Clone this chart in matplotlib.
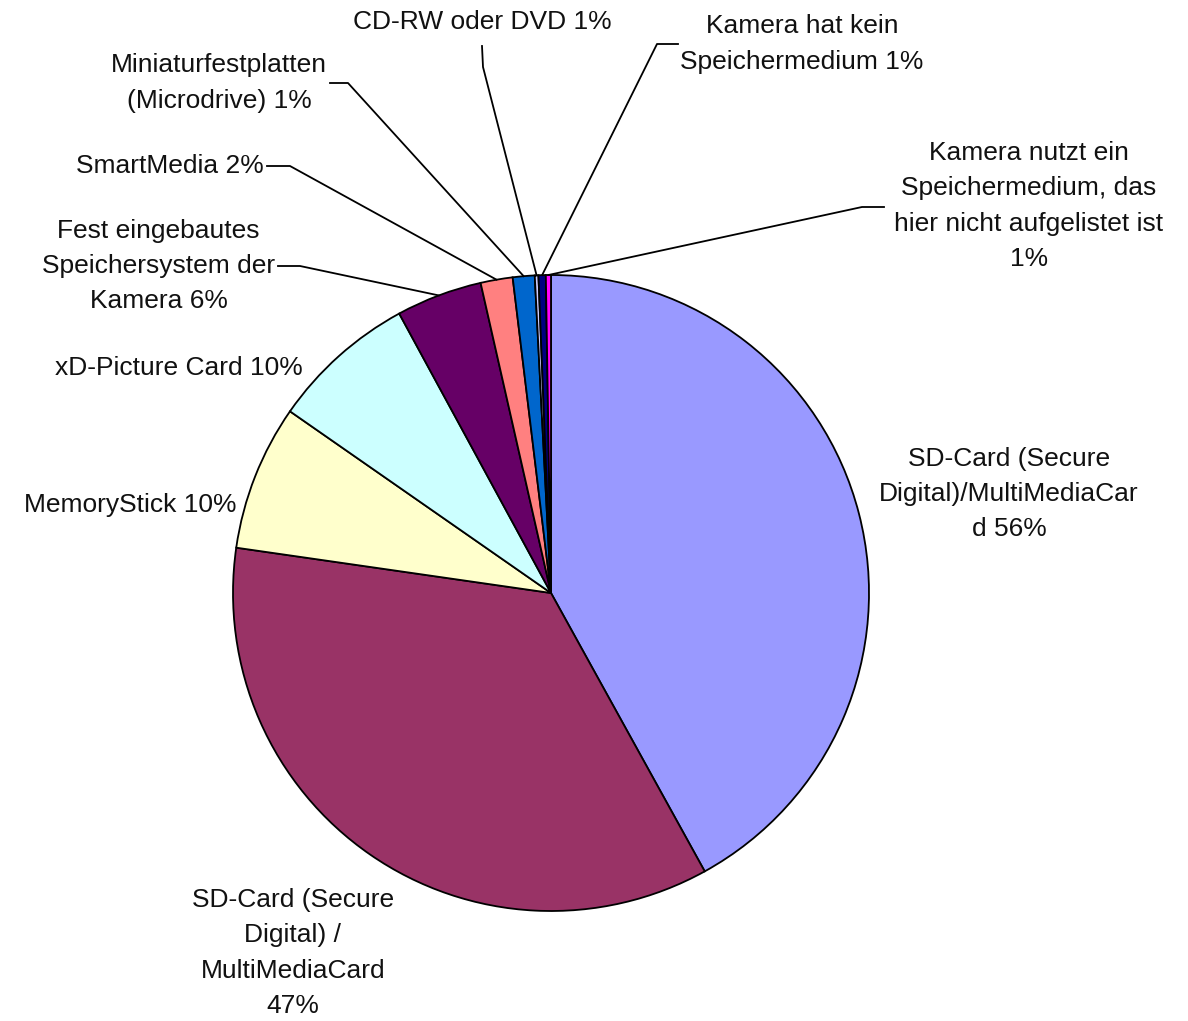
import numpy as np
from matplotlib import pyplot as plt

# Anteile, aus den Winkeln (Beschriftung zeigt die Prozentwerte)
kategorien = ["SD-Card 56", "SD-Card 47", "MemoryStick", "xD-Picture Card",
              "Fest eingebaut", "SmartMedia", "Microdrive", "CD-RW/DVD",
              "kein Speichermedium", "anderes Speichermedium"]
anteile = [56.7, 47.7, 10.0, 10.0, 5.9, 2.2, 1.5, 0.25, 0.5, 0.35]
beschriftungen = [
    "SD-Card (Secure\nDigital)/MultiMediaCar\nd 56%",
    "SD-Card (Secure\nDigital) /\nMultiMediaCard\n47%",
    "MemoryStick 10%",
    "xD-Picture Card 10%",
    "Fest eingebautes\nSpeichersystem der\nKamera 6%",
    "SmartMedia 2%",
    "Miniaturfestplatten\n(Microdrive) 1%",
    "CD-RW oder DVD 1%",
    "Kamera hat kein\nSpeichermedium 1%",
    "Kamera nutzt ein\nSpeichermedium, das\nhier nicht aufgelistet ist\n1%",
]
farben = ["#9999FF", "#993366", "#FFFFCC", "#CCFFFF", "#660066",
          "#FF8080", "#0066CC", "#CCCCFF", "#000080", "#FF00FF"]

# Layout in Bildpixeln (y nach unten)
label_pos = [(1009, 494, "center"), (293, 953, "center"), (237, 505, "right"),
             (303, 368, "right"), (275, 266, "right"), (264, 166, "right"),
             (327, 83, "right"), (482, 22, "center"), (802, 44, "center"),
             (1029, 206, "center")]
# Anfang und Knick der Fuehrungslinien
leader = [None, None, None, None,
          ((278, 266), (300, 266)), ((267, 166), (290, 166)),
          ((330, 83), (348, 83)), ((482, 46), (483, 67)),
          ((678, 44), (657, 44)), ((884, 207), (862, 207))]

W, H = 1188, 1021
fig = plt.figure(figsize=(W / 100, H / 100), dpi=100)
ax = fig.add_axes([0, 0, 1, 1])

# y-Achse ist invertiert -> counterclock=True und Start bei 270 ergibt im Uhrzeigersinn ab 12 Uhr
wedges, _ = ax.pie(anteile, colors=farben, startangle=270, counterclock=True,
                   center=(551, 593), radius=318,
                   wedgeprops=dict(edgecolor="black", linewidth=1.3))
ax.set_xlim(0, W)
ax.set_ylim(H, 0)
ax.set_aspect("equal")
ax.axis("off")

for w, txt, (x, y, ha), ld in zip(wedges, beschriftungen, label_pos, leader):
    ax.text(x, y, txt, ha=ha, va="center", multialignment="center",
            fontsize=19, family=["Liberation Sans", "DejaVu Sans"],
            linespacing=1.6, color="#111111")
    if ld is None:
        continue
    mitte = np.deg2rad((w.theta1 + w.theta2) / 2)
    ende = (w.center[0] + w.r * np.cos(mitte), w.center[1] + w.r * np.sin(mitte))
    xs = [ld[0][0], ld[1][0], ende[0]]
    ys = [ld[0][1], ld[1][1], ende[1]]
    ax.plot(xs, ys, color="black", linewidth=1.3)

fig.savefig("out.png", dpi=100, facecolor="white")
